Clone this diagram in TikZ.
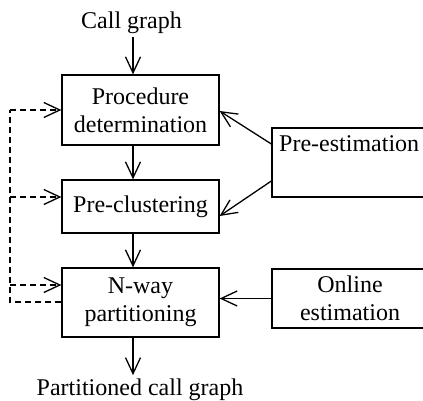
\documentclass[tikz,border=0pt]{standalone}
\usepackage{fontspec}
\setmainfont{Liberation Serif}
\usetikzlibrary{arrows.meta}
\begin{document}
\begin{tikzpicture}[x=1pt,y=-1pt,
  every node/.style={font=\fontsize{24}{28}\selectfont},
  box/.style={draw,line width=1.3pt,align=center,inner sep=0pt},
  lbl/.style={inner sep=3pt},
  tipb/.style={-{Straight Barb[length=16pt,width=15pt,line width=1.3pt]}},
  conn/.style={line width=1.3pt,tipb},
  fb/.style={line width=1.3pt,dash pattern=on 6pt off 4pt}
]
\clip (0,0) rectangle (423,401);
\fill[white] (0,0) rectangle (423,401);
% main column
\node[box,minimum width=157pt,minimum height=70pt] (proc) at (140.5,110) {Procedure\\determination};
\node[box,minimum width=157pt,minimum height=53pt] (pc) at (140.5,206.5) {Pre-clustering};
\node[box,minimum width=157pt,minimum height=69pt] (nw) at (140.5,302.5) {N-way\\partitioning};
% right boxes
\node[draw,line width=1.3pt,minimum width=160pt,minimum height=69pt,inner sep=0pt] (pe) at (352,162.5) {};
\node[anchor=base west,inner sep=0pt] (pet) at (279,152) {Pre-estimation};
\node[box,minimum width=156pt,minimum height=59pt] (oe) at (350,298.5) {Online\\estimation};
% in / out labels
\node[lbl,anchor=base] (cg) at (131.5,29) {Call graph};
\node[lbl,anchor=base] (out) at (140,395) {Partitioned call graph};
% vertical flow
\draw[conn] ([xshift=-7.5pt]proc.north |- cg.south) -- ([xshift=-7.5pt]proc.north);
\draw[conn] ([xshift=-7.5pt]proc.south) -- ([xshift=-7.5pt]pc.north);
\draw[conn] ([xshift=-7.5pt]pc.south) -- ([xshift=-7.5pt]nw.north);
\draw[conn] ([xshift=-7.5pt]nw.south) -- ([xshift=-7.5pt]nw.south |- out.north);
% estimations
\draw[conn] ([yshift=18.5pt]pe.west) -- ([yshift=-1pt]proc.east);
\draw[conn] ([yshift=-18.5pt]pe.west) -- ([yshift=-9.5pt]pc.east);
\draw[conn] (oe.west) -- (oe.west -| nw.east);
% feedback
\coordinate (fl) at (10,302);
\draw[fb] ([yshift=0.5pt]nw.west) -- (fl) -- (fl |- proc.west);
\draw[fb,tipb] (fl |- proc.west) -- (proc.west);
\draw[fb,tipb] ([yshift=9.5pt]fl |- pc.west) -- ([yshift=9.5pt]pc.west);
\draw[fb,tipb] ([yshift=17.5pt]fl |- nw.west) -- ([yshift=17.5pt]nw.west);
\end{tikzpicture}
\end{document}
